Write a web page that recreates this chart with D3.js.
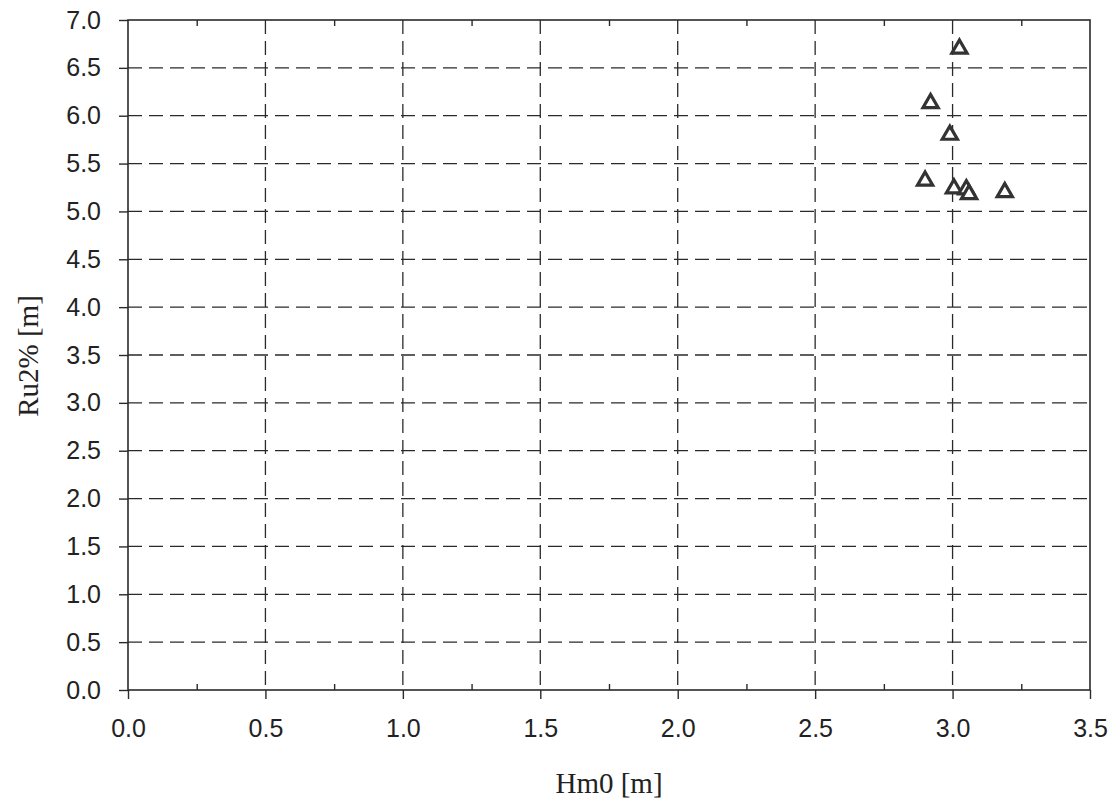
<!DOCTYPE html>
<html><head><meta charset="utf-8">
<script src="https://cdn.jsdelivr.net/npm/d3@7"></script>
<style>body{margin:0;background:#fff}</style>
</head><body>
<svg id="c" width="1118" height="805"></svg>
<script>
const hm0 = [3.025, 2.92, 2.99, 2.90, 3.005, 3.05, 3.06, 3.19];
const ru2 = [6.70, 6.13, 5.80, 5.32, 5.24, 5.23, 5.18, 5.20];
const xTicks = [0, 0.5, 1.0, 1.5, 2.0, 2.5, 3.0, 3.5];
const yTicks = [0, 0.5, 1, 1.5, 2, 2.5, 3, 3.5, 4, 4.5, 5, 5.5, 6, 6.5, 7];
const xMinor = [0.25, 0.75, 1.25, 1.75, 2.25, 2.75, 3.25];

const svg = d3.select('#c');
const L = 128, R = 1090, T = 20, B = 690;
const x = d3.scaleLinear().domain([0, 3.5]).range([L, R]);
const y = d3.scaleLinear().domain([0, 7]).range([B, T]);
const ink = '#2a2a2a';

// grid
svg.append('g').selectAll('line').data(xTicks.filter(d => d > 0 && d < 3.5)).join('line')
  .attr('x1', d => x(d)).attr('x2', d => x(d)).attr('y1', T).attr('y2', B)
  .attr('stroke', ink).attr('stroke-width', 1.3).attr('stroke-dasharray', '14,7');
svg.append('g').selectAll('line').data(yTicks.filter(d => d > 0 && d < 7)).join('line')
  .attr('x1', L).attr('x2', R).attr('y1', d => y(d)).attr('y2', d => y(d))
  .attr('stroke', ink).attr('stroke-width', 1.3).attr('stroke-dasharray', '14,7');

// axes
const fmt = d3.format('.1f');
const xa = svg.append('g').attr('transform', `translate(0,${B})`)
  .call(d3.axisBottom(x).tickValues(xTicks).tickFormat(fmt).tickSize(9).tickPadding(20));
const ya = svg.append('g').attr('transform', `translate(${L},0)`)
  .call(d3.axisLeft(y).tickValues(yTicks).tickFormat(fmt).tickSize(9).tickPadding(18));
[xa, ya].forEach(g => {
  g.select('.domain').remove();
  g.selectAll('line').attr('stroke', ink).attr('stroke-width', 1.4);
  g.selectAll('text').attr('font-family', 'Liberation Sans, Arial, sans-serif')
    .attr('font-size', 25).attr('fill', '#222');
});
xa.selectAll('text').attr('dy', null).attr('y', 47);
// minor ticks inward on bottom & top
svg.append('g').attr('transform', `translate(0,${B})`)
  .call(d3.axisTop(x).tickValues(xMinor).tickFormat('').tickSize(6))
  .call(g => { g.select('.domain').remove(); g.selectAll('line').attr('stroke', ink).attr('stroke-width', 1.4); });
svg.append('g').attr('transform', `translate(0,${T})`)
  .call(d3.axisBottom(x).tickValues(xMinor).tickFormat('').tickSize(6))
  .call(g => { g.select('.domain').remove(); g.selectAll('line').attr('stroke', ink).attr('stroke-width', 1.4); });

// frame
svg.append('rect').attr('x', L).attr('y', T).attr('width', R - L).attr('height', B - T)
  .attr('fill', 'none').attr('stroke', ink).attr('stroke-width', 1.6);

// points
const tri = d3.symbol().type(d3.symbolTriangle).size(100);
svg.append('g').selectAll('path').data(hm0.map((h, i) => [h, ru2[i]])).join('path')
  .attr('d', tri)
  .attr('transform', d => `translate(${x(d[0])},${y(d[1])})`)
  .attr('fill', '#fff').attr('stroke', '#333').attr('stroke-width', 3.2);

// titles
svg.append('text').attr('x', 609).attr('y', 793).attr('text-anchor', 'middle')
  .attr('font-family', 'Liberation Serif, Times New Roman, serif').attr('font-size', 29)
  .attr('fill', '#222').text('Hm0 [m]');
svg.append('text').attr('transform', 'translate(38,356) rotate(-90)').attr('text-anchor', 'middle')
  .attr('font-family', 'Liberation Serif, Times New Roman, serif').attr('font-size', 29)
  .attr('fill', '#222').text('Ru2% [m]');
</script>
</body></html>
